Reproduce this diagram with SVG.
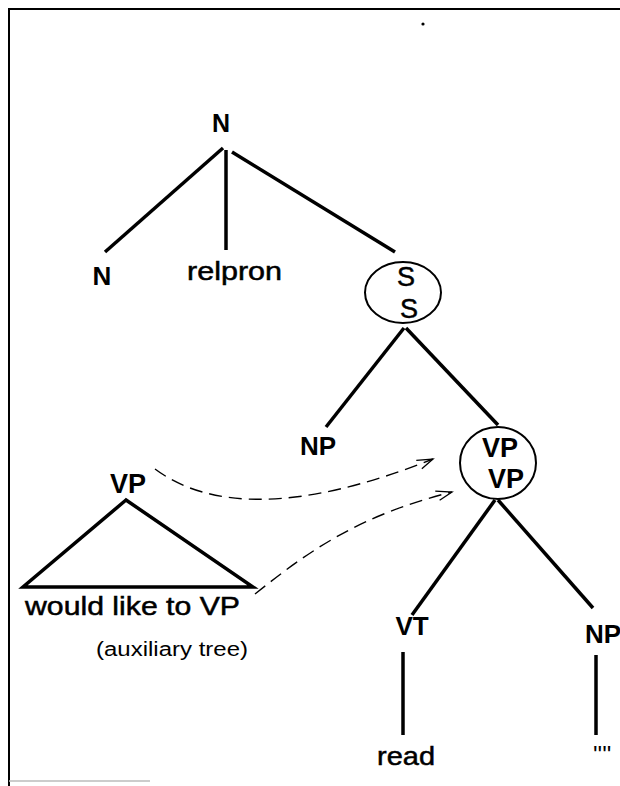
<svg xmlns="http://www.w3.org/2000/svg" width="620" height="786" viewBox="0 0 620 786">
<style>
.t{font-family:"Liberation Sans",Arial,sans-serif;fill:#000}
.r{stroke:#000;stroke-width:0.5}
.b{font-weight:bold}
.e{fill:none;stroke:#000;stroke-width:3.5;stroke-linecap:butt}
.o{fill:#fff;stroke:#000;stroke-width:2}
.d{fill:none;stroke:#000;stroke-width:1.4;stroke-dasharray:13 7}
</style>
<defs>
<marker id="ah" markerWidth="18" markerHeight="12" refX="16" refY="6" orient="auto" markerUnits="userSpaceOnUse">
<path d="M0,1 L16,6 L2,11" fill="none" stroke="#000" stroke-width="1.3"/>
</marker>
</defs>
<rect x="0" y="0" width="620" height="786" fill="#fff"/>
<g id="frame">
<line x1="8" y1="9" x2="620" y2="9" stroke="#000" stroke-width="2"/>
<line x1="9" y1="8" x2="9" y2="786" stroke="#000" stroke-width="2"/>
<line x1="9" y1="781" x2="150" y2="781" stroke="#bbb" stroke-width="1.5"/>
<circle cx="423" cy="24" r="1.6" fill="#000"/>
</g>
<g id="connectors">
<line class="e" x1="223" y1="148" x2="105" y2="252"/>
<line class="e" x1="226" y1="150" x2="226" y2="250"/>
<line class="e" x1="232" y1="152" x2="395" y2="252"/>
<line class="e" x1="404" y1="328" x2="326" y2="427"/>
<line class="e" x1="406" y1="328" x2="498" y2="425"/>
<line class="e" x1="495" y1="500" x2="412" y2="615"/>
<line class="e" x1="498" y1="500" x2="593" y2="608"/>
<line class="e" x1="403" y1="652" x2="403" y2="735"/>
<line class="e" x1="596" y1="655" x2="596" y2="735"/>
<path class="d" d="M155,469 C210,510 300,512 433,459" marker-end="url(#ah)"/>
<path class="d" d="M255,594 C310,550 360,515 452,492" marker-end="url(#ah)"/>
</g>
<g id="n-root"><text class="t b" x="221" y="132" font-size="25" text-anchor="middle">N</text></g>
<g id="n-left"><text class="t b" x="102" y="285" font-size="26" text-anchor="middle">N</text></g>
<g id="relpron"><text class="t r" x="187" y="280" font-size="25" textLength="95" lengthAdjust="spacingAndGlyphs">relpron</text></g>
<g id="s-node">
<ellipse class="o" cx="403" cy="292.5" rx="38" ry="30.5"/>
<text class="t r" x="406" y="286" font-size="27" text-anchor="middle">S</text>
<text class="t r" x="409" y="318" font-size="27" text-anchor="middle">S</text>
</g>
<g id="np-left"><text class="t b" x="300" y="455" font-size="26">NP</text></g>
<g id="vp-node">
<ellipse class="o" cx="498" cy="463" rx="38" ry="36"/>
<text class="t b" x="500" y="457" font-size="27" text-anchor="middle">VP</text>
<text class="t b" x="506" y="488" font-size="27" text-anchor="middle">VP</text>
</g>
<g id="aux-tree">
<text class="t b" x="128" y="493" font-size="27" text-anchor="middle">VP</text>
<path d="M126,500 L23,587 L253,587 Z" fill="none" stroke="#000" stroke-width="3.5" stroke-linejoin="miter"/>
<text class="t r" x="25" y="615" font-size="26" textLength="215" lengthAdjust="spacingAndGlyphs">would like to VP</text>
<text class="t" x="96" y="656" font-size="20" textLength="152" lengthAdjust="spacingAndGlyphs">(auxiliary tree)</text>
</g>
<g id="vt-node"><text class="t b" x="412" y="635" font-size="26" text-anchor="middle">VT</text></g>
<g id="read"><text class="t r" x="377" y="765" font-size="26" textLength="58" lengthAdjust="spacingAndGlyphs">read</text></g>
<g id="np-right"><text class="t b" x="585" y="643" font-size="26">NP</text></g>
<g id="np-leaf"><text class="t" x="593" y="763" font-size="24">''''</text></g>
</svg>
